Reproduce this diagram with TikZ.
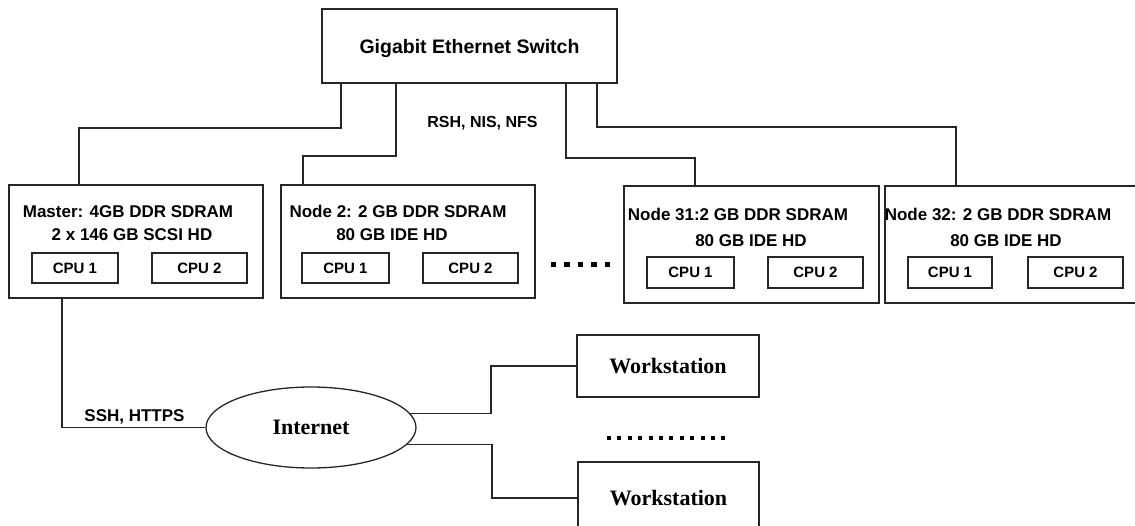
\documentclass[tikz,border=0pt]{standalone}
\usepackage{fontspec}
\setmainfont{Liberation Serif}
\setsansfont{Liberation Sans}
\usetikzlibrary{shapes.geometric}
\begin{document}
\begin{tikzpicture}[x=1pt,y=-1pt,
  wire/.style={line width=1.4pt, draw=black!85},
  frame/.style={draw=black!85, line width=1.6pt, rectangle, inner sep=0pt},
  hw/.style={font=\sffamily\bfseries\fontsize{17}{18}\selectfont, anchor=base, inner sep=0pt},
  cpu/.style={frame, minimum width=#1, minimum height=30pt,
    font=\sffamily\bfseries\fontsize{15}{15}\selectfont, text height=10.7pt, text depth=0pt},
  serifbold/.style={font=\rmfamily\bfseries\fontsize{22}{22}\selectfont, text height=14.6pt, text depth=0pt},
  dot/.style={fill=black}]
\useasboundingbox (0,0) rectangle (1135,525);
\clip (0,0) rectangle (1135,525);

% switch
\node[frame, minimum width=295pt, minimum height=74pt,
  font=\sffamily\bfseries\fontsize{19.5}{20}\selectfont, text height=14pt, text depth=0pt]
  (sw) at (469.5,46) {Gigabit Ethernet Switch};

% cluster nodes
\node[frame, minimum width=254pt, minimum height=113pt] (m)   at (136,241.5) {};
\node[frame, minimum width=254pt, minimum height=113pt] (n2)  at (408,241.5) {};
\node[frame, minimum width=255pt, minimum height=117pt] (n31) at (751.5,244.5) {};
\node[frame, minimum width=260pt, minimum height=117pt] (n32) at (1015,244.5) {};

\node[hw] (m1)   at (128,217) {Master: 4GB DDR SDRAM};
\node[hw] (m2)   at (132,240) {2 x 146 GB SCSI HD};
\node[hw] (n2a)  at (398,217) {Node 2: 2 GB DDR SDRAM};
\node[hw] (n2b)  at (392,240) {80 GB IDE HD};
\node[hw] (n31a) at (738,220) {Node 31:2 GB DDR SDRAM};
\node[hw] (n31b) at (751,246) {80 GB IDE HD};
\node[hw] (n32a) at (998,220) {Node 32: 2 GB DDR SDRAM};
\node[hw] (n32b) at (1006,246) {80 GB IDE HD};

\node[cpu=86pt] (mc1)  at (75,268)    {CPU 1};
\node[cpu=95pt] (mc2)  at (199.5,268) {CPU 2};
\node[cpu=87pt] (n2c1) at (345.5,268) {CPU 1};
\node[cpu=95pt] (n2c2) at (470.5,268) {CPU 2};
\node[cpu=87pt, minimum height=31pt] (n31c1) at (690.5,272.5) {CPU 1};
\node[cpu=95pt, minimum height=31pt] (n31c2) at (815.5,272.5) {CPU 2};
\node[cpu=84pt, minimum height=31pt] (n32c1) at (950,272.5)   {CPU 1};
\node[cpu=95pt, minimum height=31pt] (n32c2) at (1075.5,272.5) {CPU 2};

% ellipsis between node 2 and node 31
\foreach \i in {0,...,4}
  \fill[dot] (550.5+13.5*\i,261.5) rectangle ++(5.5,5.5);

% internet and workstations
\node[draw=black!85, line width=1.3pt, ellipse, minimum width=210pt, minimum height=81pt,
  inner sep=0pt, serifbold] (inet) at (311,427.5) {Internet};
\node[frame, minimum width=182pt, minimum height=62pt, serifbold] (ws1) at (668,366) {Workstation};
\node[frame, minimum width=181pt, minimum height=72pt, serifbold] (ws2) at (668.5,498) {Workstation};

\foreach \i in {0,...,11}
  \fill[dot] (607+10.4*\i,436) rectangle ++(4,4);

% labels on the links
\node[hw, font=\sffamily\bfseries\fontsize{16}{18}\selectfont] (proto) at (482.5,127.7) {RSH, NIS, NFS};
\node[hw, font=\sffamily\bfseries\fontsize{17}{18}\selectfont] (remote) at (134.5,421) {SSH, HTTPS};

% switch links
\draw[wire] (341,0 |- sw.south) |- (79,128) -- (79,0 |- m.north);
\draw[wire] (396,0 |- sw.south) |- (303,156) -- (303,0 |- n2.north);
\draw[wire] (566,0 |- sw.south) |- (695,158) -- (695,0 |- n31.north);
\draw[wire] (597,0 |- sw.south) |- (956,127) -- (956,0 |- n32.north);

% outside links
\draw[wire] (62,0 |- m.south) |- (inet.west);
\draw[wire] (inet.8.4) -| (491,0 |- ws1.west) -- (ws1.west);
\draw[wire] (inet.-10.5) -| (492,0 |- ws2.west) -- (ws2.west);
\end{tikzpicture}
\end{document}
